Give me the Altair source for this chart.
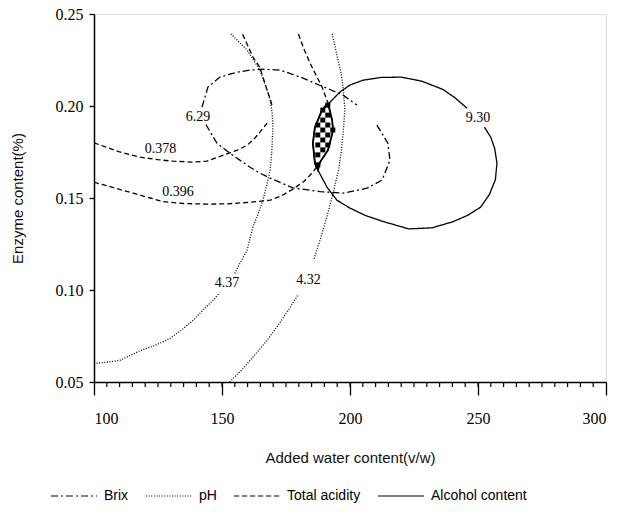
import altair as alt
import pandas as pd
import numpy as np

# ---- contour data (x: added water, y: enzyme) ----
alc_x = [245.7, 241.0, 236.3, 228.0, 220.0, 212.0, 205.0, 200.0, 196.0, 193.0, 189.1, 186.3, 185.5, 186.3, 187.5, 191.0, 194.9, 200.0, 206.0, 213.0, 223.0, 232.0, 240.0, 246.0, 251.0, 254.5, 256.8, 257.4, 256.5, 255.0, 252.5]
alc_y = [0.1988, 0.2045, 0.2090, 0.2135, 0.2157, 0.2155, 0.2140, 0.2114, 0.2075, 0.2032, 0.1978, 0.1885, 0.1798, 0.1689, 0.1651, 0.1559, 0.1488, 0.1445, 0.1405, 0.1372, 0.1332, 0.1338, 0.1370, 0.1406, 0.1450, 0.1520, 0.1600, 0.1690, 0.1770, 0.1830, 0.1885]

brix1_x = [142.2, 144.5, 149.2, 155.9, 161.0, 166.0, 172.7, 177.0, 181.6, 186.0, 191.0, 197.3, 202.7]
brix1_y = [0.1994, 0.2103, 0.2157, 0.2184, 0.2195, 0.2200, 0.2195, 0.2175, 0.2152, 0.2125, 0.2097, 0.2059, 0.2005]
brix2_x = [210.5, 214.8, 215.6, 212.5, 206.6, 197.3, 188.3, 177.7, 168.8, 164.8, 161.0, 153.1, 148.0, 143.4]
brix2_y = [0.1896, 0.1798, 0.1705, 0.1597, 0.1553, 0.1526, 0.1535, 0.1555, 0.1608, 0.1635, 0.1667, 0.1743, 0.1798, 0.1907]

ta378a_x = [100.0, 110.0, 118.0, 125.0, 131.0, 138.7, 144.1, 152.0, 156.0, 159.8, 162.5, 164.8, 167.6]
ta378a_y = [0.1800, 0.1750, 0.1722, 0.1708, 0.1700, 0.1695, 0.1700, 0.1740, 0.1760, 0.1787, 0.1820, 0.1858, 0.1907]
ta378b_x = [169.5, 168.8, 168.0, 166.0, 164.8, 162.1, 160.0, 157.8]
ta378b_y = [0.2005, 0.2040, 0.2070, 0.2157, 0.2210, 0.2266, 0.2330, 0.2397]

ta396_x = [100.0, 108.0, 115.3, 122.0, 127.0, 135.0, 144.0, 152.0, 161.0, 168.8, 173.0, 177.7, 182.0, 185.5, 188.3, 191.4, 193.4, 193.0, 191.4, 189.1, 187.0, 184.5, 182.0, 179.7]
ta396_y = [0.1586, 0.1555, 0.1526, 0.1500, 0.1480, 0.1470, 0.1467, 0.1468, 0.1477, 0.1488, 0.1510, 0.1548, 0.1590, 0.1640, 0.1695, 0.1760, 0.1869, 0.1923, 0.2016, 0.2103, 0.2160, 0.2230, 0.2310, 0.2397]

ph437a_x = [100.0, 105.0, 110.0, 118.0, 124.0, 129.7, 134.0, 138.7, 142.5, 146.5, 149.0]
ph437a_y = [0.0600, 0.0608, 0.0617, 0.0670, 0.0700, 0.0737, 0.0780, 0.0835, 0.0890, 0.0944, 0.0985]
ph437b_x = [155.0, 157.0, 159.8, 162.0, 164.0, 166.0, 167.5, 168.8, 169.5, 169.9, 169.6, 168.8, 167.6, 164.8, 159.8, 153.1]
ph437b_y = [0.1090, 0.1145, 0.1216, 0.1340, 0.1410, 0.1488, 0.1570, 0.1651, 0.1760, 0.1896, 0.1960, 0.2030, 0.2086, 0.2195, 0.2304, 0.2397]

ph432a_x = [153.0, 158.0, 163.0, 167.6, 172.0, 176.6, 179.5]
ph432a_y = [0.0500, 0.0570, 0.0650, 0.0726, 0.0810, 0.0905, 0.0970]
ph432b_x = [186.0, 188.5, 191.0, 193.4, 195.5, 196.6, 197.3, 198.0, 197.3, 196.5, 195.3, 193.0]
ph432b_y = [0.1170, 0.1280, 0.1400, 0.1526, 0.1650, 0.1750, 0.1852, 0.1978, 0.2103, 0.2180, 0.2250, 0.2397]

# optimum region (checkered)
reg_x = [191.4, 189.1, 186.3, 185.5, 186.3, 187.5, 188.3, 191.4, 193.4, 193.0, 191.4]
reg_y = [0.2016, 0.1978, 0.1885, 0.1798, 0.1689, 0.1651, 0.1695, 0.1760, 0.1869, 0.1923, 0.2016]

# contour labels
lab_text = ["6.29", "9.30", "0.378", "0.396", "4.37", "4.32"]
lab_x = [140.6, 250.0, 126.0, 132.8, 152.0, 183.8]
lab_y = [0.1940, 0.1934, 0.1765, 0.1530, 0.1036, 0.1052]

series_names = ["Brix", "pH", "Total acidity", "Alcohol content"]
x_major = [100, 150, 200, 250, 300]
x_minor = list(range(105, 300, 5))
y_major = [0.05, 0.10, 0.15, 0.20, 0.25]

# ---- build tables ----
segs = [
    ("Alcohol content", "alc", alc_x, alc_y),
    ("Brix", "brix1", brix1_x, brix1_y),
    ("Brix", "brix2", brix2_x, brix2_y),
    ("Total acidity", "ta378a", ta378a_x, ta378a_y),
    ("Total acidity", "ta378b", ta378b_x, ta378b_y),
    ("Total acidity", "ta396", ta396_x, ta396_y),
    ("pH", "ph437a", ph437a_x, ph437a_y),
    ("pH", "ph437b", ph437b_x, ph437b_y),
    ("pH", "ph432a", ph432a_x, ph432a_y),
    ("pH", "ph432b", ph432b_x, ph432b_y),
]
rows = []
for s, sid, xs_, ys_ in segs:
    for i, (a, b) in enumerate(zip(xs_, ys_)):
        rows.append({"series": s, "seg": sid, "i": i, "x": a, "y": b})
lines_df = pd.DataFrame(rows)

def inside(px, py, vx, vy):
    c = False
    n = len(vx)
    j = n - 1
    for k in range(n):
        if ((vy[k] > py) != (vy[j] > py)) and (px < (vx[j] - vx[k]) * (py - vy[k]) / (vy[j] - vy[k]) + vx[k]):
            c = not c
        j = k
    return c

cw, ch = 1.95, 0.0027
cells = []
for ix, cx in enumerate(np.arange(184.5, 194.5, cw)):
    for iy, cy in enumerate(np.arange(0.164, 0.2035, ch)):
        if (ix + iy) % 2 == 0 and inside(cx + cw / 2, cy + ch / 2, reg_x, reg_y):
            cells.append({"x": cx, "x2": cx + cw, "y": cy, "y2": cy + ch})
cells_df = pd.DataFrame(cells)
reg_df = pd.DataFrame({"x": reg_x, "y": reg_y, "i": range(len(reg_x))})
lab_df = pd.DataFrame({"t": lab_text, "x": lab_x, "y": lab_y})
minor_df = pd.DataFrame({"x": x_minor})

xs = alt.Scale(domain=[100, 300], nice=False, zero=False)
ys = alt.Scale(domain=[0.05, 0.25], nice=False, zero=False)

SERIF = "Liberation Serif"
SANS = "Liberation Sans"

x_enc = alt.X("x:Q", scale=xs, axis=alt.Axis(
    title="Added water content(v/w)", values=x_major, format="d", grid=False,
    tickSize=13, labelPadding=15, titlePadding=24,
    labelFont=SERIF, labelFontSize=16, labelColor="black",
    titleFont=SANS, titleFontSize=15, titleFontWeight="normal", titleColor="#111",
    tickColor="black", tickWidth=1.3, domainColor="black", domainWidth=1.5))
y_enc = alt.Y("y:Q", scale=ys, axis=alt.Axis(
    title="Enzyme content(%)", values=y_major, format=".2f", grid=False,
    tickSize=5, labelPadding=6, titlePadding=30,
    labelFont=SERIF, labelFontSize=16, labelColor="black",
    titleFont=SANS, titleFontSize=15, titleFontWeight="normal", titleColor="#111",
    tickColor="black", tickWidth=1.3, domainColor="black", domainWidth=1.5))

dash_legend = alt.Legend(orient="none", legendX=-44, legendY=458, direction="horizontal",
                         title=None, symbolType="stroke", symbolSize=2116,
                         symbolStrokeWidth=1.2, symbolStrokeColor="black",
                         labelFont=SANS, labelFontSize=14, labelColor="black",
                         columnPadding=14, labelOffset=6)

lines = alt.Chart(lines_df).mark_line(clip=True, color="black", strokeWidth=1.3).encode(
    x=x_enc, y=y_enc,
    detail="seg:N",
    order="i:Q",
    strokeDash=alt.StrokeDash("series:N", scale=alt.Scale(
        domain=series_names,
        range=[[7, 3, 2, 3], [1, 1.6], [5, 3], [1, 0]]),
        legend=dash_legend),
)

checker = alt.Chart(cells_df).mark_rect(color="black").encode(
    x=alt.X("x:Q", scale=xs), x2="x2:Q", y=alt.Y("y:Q", scale=ys), y2="y2:Q")
outline = alt.Chart(reg_df).mark_line(color="black", strokeWidth=1.8).encode(
    x=alt.X("x:Q", scale=xs), y=alt.Y("y:Q", scale=ys), order="i:Q")

labels = alt.Chart(lab_df).mark_text(font=SERIF, fontSize=14, color="black").encode(
    x=alt.X("x:Q", scale=xs), y=alt.Y("y:Q", scale=ys), text="t:N")

minor = alt.Chart(minor_df).mark_rule(color="black", strokeWidth=1.2).encode(
    x=alt.X("x:Q", scale=xs), y=alt.value(368), y2=alt.value(373))

chart = alt.layer(lines, checker, outline, labels, minor).properties(
    width=512, height=368,
    autosize=alt.AutoSizeParams(type="none"),
    padding={"left": 94, "top": 14, "right": 32, "bottom": 141},
).configure_view(stroke="black", strokeWidth=1.5).configure(background="white")

chart.save("out.html", embed_options={"renderer": "svg", "actions": False})
